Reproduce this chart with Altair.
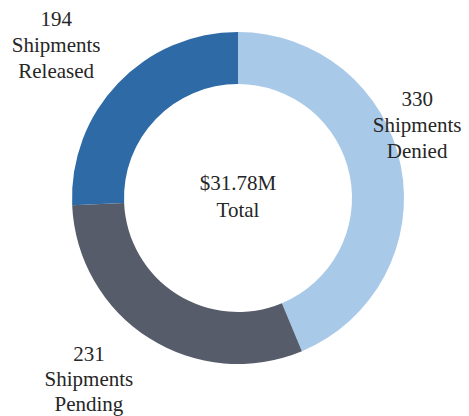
import altair as alt
import pandas as pd

statuses = ["Denied", "Pending", "Released"]
counts = [330, 231, 194]
colors = ["#a9c9e8", "#565c6a", "#2e6aa6"]
center_lines = ["$31.78M", "Total"]

df = pd.DataFrame({"status": statuses, "count": counts, "order": list(range(len(statuses)))})
df["label"] = [f"{c}\nShipments\n{s}" for c, s in zip(counts, statuses)]

FONT = "Liberation Serif"
TXT = "#262626"
W, H = 440, 380

arc = alt.Chart(df).mark_arc(radius=166, innerRadius=114).encode(
    theta=alt.Theta("count:Q", stack=True),
    color=alt.Color("status:N", scale=alt.Scale(domain=statuses, range=colors), legend=None),
    order=alt.Order("order:Q"),
)


def label_layer(status, r, dx, dy, lh=26):
    return (
        alt.Chart(df)
        .transform_window(cum="sum(count)", sort=[alt.SortField("order")])
        .transform_calculate(mid="datum.cum - datum.count / 2")
        .transform_filter(alt.datum.status == status)
        .mark_text(radius=r, dx=dx, dy=dy, font=FONT, fontSize=21, lineBreak="\n",
                   lineHeight=lh, color=TXT, align="center", baseline="middle")
        .encode(theta=alt.Theta("mid:Q", stack=False), text="label:N")
    )


center = alt.Chart(pd.DataFrame({"t": ["\n".join(center_lines)]})).mark_text(
    font=FONT, fontSize=21, lineBreak="\n", lineHeight=27, color=TXT,
    align="center", baseline="middle", dy=-14
).encode(text="t:N")

chart = alt.layer(
    arc,
    label_layer("Denied", 199, -16, -59),
    label_layer("Pending", 237, -22, -43, lh=25),
    label_layer("Released", 242, -7, -11),
    center,
).properties(
    width=W, height=H,
    autosize=alt.AutoSizeParams(type="none"),
    padding={"left": 10, "top": 0, "right": 3, "bottom": 28},
).configure_view(strokeOpacity=0)

chart.save("out.html", embed_options={"renderer": "svg", "actions": False})
